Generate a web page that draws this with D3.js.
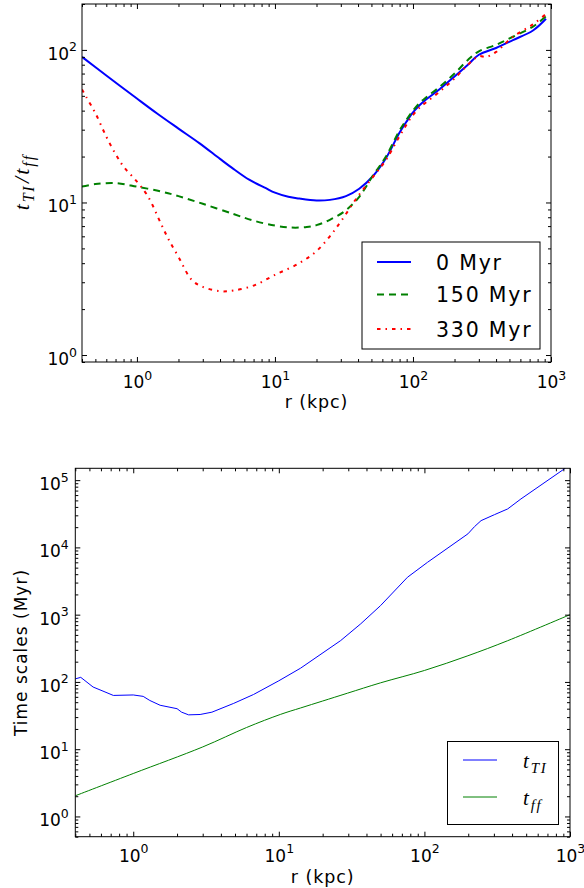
<!DOCTYPE html>
<html>
<head>
<meta charset="utf-8">
<script src="https://cdn.jsdelivr.net/npm/d3@7"></script>
<style>
  html, body { margin: 0; padding: 0; background: #fff; }
  svg { display: block; }
  text { font-family: "DejaVu Sans", sans-serif; fill: #000; }
</style>
</head>
<body>
<svg id="chart" width="584" height="888"></svg>
<script>
// ---------- DATA ----------
// Top panel: t_TI / t_ff ratio vs r (kpc)
const rBlue0   = [0.4, 0.6, 1, 1.4, 2, 2.83, 4, 5, 6.5, 8.6, 10, 12.5, 15, 20, 25, 32.7, 40.8, 51, 63.7, 79.6, 90, 99, 112, 125, 155, 200, 250, 300, 400, 530, 740, 920];
const ratio0   = [90, 68, 48, 38.3, 30.5, 24.5, 19.3, 16.6, 14.1, 12.4, 11.6, 10.9, 10.6, 10.3, 10.4, 11, 12.3, 14.8, 19.5, 28.5, 34, 38.5, 43.5, 47.5, 55, 67, 80, 93, 103, 116, 134, 160];

const rGreen150 = [0.4, 0.5, 0.7, 1.0, 1.5, 2, 3, 5, 7, 10, 13, 17, 20, 25, 32.7, 40.8, 51, 63.7, 79.6, 90, 99, 112, 125, 155, 200, 250, 300, 400, 530, 740, 920];
const ratio150  = [12.7, 13.2, 13.4, 12.7, 11.8, 11, 9.8, 8.4, 7.6, 7.05, 6.85, 6.9, 7.1, 7.7, 8.9, 10.9, 14.9, 20, 29.5, 35, 39.5, 45, 49, 57, 70, 86, 98, 108, 122, 142, 166];

const rRed330  = [0.4, 0.43, 0.5, 0.6, 0.7, 0.8, 1.0, 1.2, 1.5, 1.7, 2, 2.5, 3, 4, 5, 7, 10, 15, 20, 25, 30, 40, 51, 63.7, 79.6, 90, 99, 112, 125, 155, 200, 250, 300, 340, 400, 530, 740, 920];
const ratio330 = [55, 49, 38.5, 27, 20.8, 17.2, 13.7, 11, 7.2, 5.7, 4.4, 3.1, 2.8, 2.62, 2.65, 2.85, 3.35, 4.0, 4.8, 6.0, 7.5, 11, 14.6, 19, 27, 32.5, 37, 42, 45.5, 53, 65, 80, 91, 90, 97, 122, 147, 172];

const topSeriesNames = ["0 Myr", "150 Myr", "330 Myr"];

// Bottom panel: time scales (Myr) vs r (kpc)
const rTI  = [0.4, 0.436, 0.53, 0.62, 0.73, 1.0, 1.17, 1.3, 1.53, 2.0, 2.15, 2.4, 2.88, 3.47, 4.9, 6.7, 10, 14.1, 26.6, 36.5, 50, 76.5, 105, 199, 221, 245, 303, 373, 460, 910, 1000];
const tTI  = [111, 117, 84, 73, 63, 64, 61, 53, 45, 40, 35.5, 32.4, 32.8, 35.5, 48, 65, 104, 160, 412, 730, 1365, 3600, 6000, 15900, 20400, 25000, 30700, 37300, 52500, 146000, 175000];

const rFF  = [0.4, 1, 3, 6, 10.3, 14.1, 20, 29.6, 50, 100, 199, 373, 1000];
const tFF  = [2.03, 4.35, 10.8, 21, 33, 41, 52, 68, 97, 148, 245, 410, 1000];

const xLabel = "r (kpc)";
const bottomYLabel = "Time scales (Myr)";

// ---------- DRAWING ----------
const svg = d3.select("#chart");

function majors(dom) {
  const out = [];
  for (let e = Math.ceil(Math.log10(dom[0]) - 1e-9); e <= Math.floor(Math.log10(dom[1]) + 1e-9); e++) out.push(Math.pow(10, e));
  return out;
}
function minors(dom) {
  const out = [];
  for (let e = Math.floor(Math.log10(dom[0])) ; e <= Math.ceil(Math.log10(dom[1])); e++) {
    for (let k = 2; k <= 9; k++) {
      const v = k * Math.pow(10, e);
      if (v >= dom[0] * 0.9999 && v <= dom[1] * 1.0001) out.push(v);
    }
  }
  return out;
}

function panel(cfg) {
  const x = d3.scaleLog().domain(cfg.xDomain).range([cfg.x0, cfg.x1]);
  const y = d3.scaleLog().domain(cfg.yDomain).range([cfg.y1, cfg.y0]);
  const g = svg.append("g");

  const clipId = "clip" + cfg.id;
  svg.append("clipPath").attr("id", clipId).append("rect")
    .attr("x", cfg.x0).attr("y", cfg.y0).attr("width", cfg.x1 - cfg.x0).attr("height", cfg.y1 - cfg.y0);

  // series
  const lines = g.append("g").attr("clip-path", `url(#${clipId})`);
  cfg.series.forEach(s => {
    const pts = s.r.map((r, i) => [r, s.v[i]]);
    const line = d3.line().x(d => x(d[0])).y(d => y(d[1])).curve(s.curve || cfg.curve);
    lines.append("path").attr("d", line(pts))
      .attr("fill", "none").attr("stroke", s.color).attr("stroke-width", s.width)
      .attr("stroke-dasharray", s.dash || null).attr("stroke-linejoin", "round");
  });

  // axes (ticks pointing inward on all four sides)
  const xMaj = majors(cfg.xDomain), xMin = minors(cfg.xDomain);
  const yMaj = majors(cfg.yDomain), yMin = minors(cfg.yDomain);
  const mk = side => side === "bottom" ? d3.axisBottom(x) : side === "top" ? d3.axisTop(x) : side === "left" ? d3.axisLeft(y) : d3.axisRight(y);
  const defs = [
    ["bottom", `translate(0,${cfg.y1})`, xMaj, xMin],
    ["top",    `translate(0,${cfg.y0})`, xMaj, xMin],
    ["left",   `translate(${cfg.x0},0)`, yMaj, yMin],
    ["right",  `translate(${cfg.x1},0)`, yMaj, yMin]
  ];
  defs.forEach(([side, tr, maj, min]) => {
    const gMin = g.append("g").attr("transform", tr)
      .call(mk(side).tickValues(min).tickSize(-3).tickFormat(() => ""));
    gMin.select(".domain").remove();
    gMin.selectAll(".tick text").remove();
    const gMaj = g.append("g").attr("transform", tr)
      .call(mk(side).tickValues(maj).tickSize(-5).tickFormat(d => String(Math.round(Math.log10(d)))));
    gMaj.select(".domain").remove();
    if (side === "bottom" || side === "left") {
      gMaj.selectAll(".tick text").each(function(d) {
        const t = d3.select(this);
        const e = String(Math.round(Math.log10(d)));
        t.text(null).attr("font-size", 17).attr("font-family", "DejaVu Sans").attr("fill", "#000");
        if (side === "bottom") t.attr("text-anchor", "middle").attr("x", 0).attr("y", cfg.xLabBase).attr("dy", null);
        else t.attr("text-anchor", "end").attr("x", -cfg.yLabGap).attr("y", 9.5).attr("dy", null);
        t.append("tspan").text("10");
        t.append("tspan").attr("dy", -8.5).attr("font-size", 12.5).text(e);
      });
    } else {
      gMaj.selectAll(".tick text").remove();
    }
  });
  g.selectAll(".tick line").attr("stroke", "#000").attr("stroke-width", 1);

  // spines
  g.append("rect").attr("x", cfg.x0).attr("y", cfg.y0)
    .attr("width", cfg.x1 - cfg.x0).attr("height", cfg.y1 - cfg.y0)
    .attr("fill", "none").attr("stroke", "#000").attr("stroke-width", 1);

  // x label
  g.append("text").attr("x", (cfg.x0 + cfg.x1) / 2).attr("y", cfg.y1 + 46)
    .attr("text-anchor", "middle").attr("font-size", 17.5).attr("letter-spacing", 0.9).text(xLabel);

  return {x, y, g};
}

const smooth = d3.curveCatmullRom.alpha(0.5);

// ---------- TOP PANEL ----------
const topCfg = {
  id: "top", x0: 82, x1: 551, y0: 4, y1: 362,
  xDomain: [0.4, 1000], yDomain: [0.9, 200],
  xLabBase: 26, yLabGap: 5, curve: smooth,
  series: [
    {r: rBlue0,    v: ratio0,   color: "#0000ff", width: 2},
    {r: rGreen150, v: ratio150, color: "#008000", width: 2, dash: "7,5"},
    {r: rRed330,   v: ratio330, color: "#ff0000", width: 2, dash: "3.5,5,1.5,5"}
  ]
};
const topPanel = panel(topCfg);

// top y label: t_TI / t_ff (math italic)
const yl = svg.append("text")
  .attr("transform", "translate(29,182) rotate(-90)")
  .attr("text-anchor", "middle")
  .style("font-family", "'Liberation Serif', 'DejaVu Serif', serif")
  .style("font-style", "italic").attr("font-size", 22);
yl.append("tspan").text("t");
yl.append("tspan").attr("dy", 5).attr("font-size", 16).attr("dx", 2).attr("letter-spacing", 1.5).text("TI");
yl.append("tspan").attr("dy", -5).attr("dx", 2).text("/");
yl.append("tspan").attr("dx", 2).text("t");
yl.append("tspan").attr("dy", 5).attr("font-size", 16).attr("dx", 2).attr("letter-spacing", 2).text("ff");

// top legend
const lgT = svg.append("g");
lgT.append("rect").attr("x", 362).attr("y", 242).attr("width", 178).attr("height", 107)
  .attr("fill", "#fff").attr("stroke", "#000").attr("stroke-width", 1);
const lgRowsT = [262, 294.5, 329];
topCfg.series.forEach((s, i) => {
  lgT.append("line").attr("x1", 377).attr("x2", 411).attr("y1", lgRowsT[i]).attr("y2", lgRowsT[i])
    .attr("stroke", s.color).attr("stroke-width", s.width).attr("stroke-dasharray", s.dash || null);
  lgT.append("text").attr("x", 436).attr("y", lgRowsT[i] + 7.5).attr("font-size", 20.5)
    .attr("letter-spacing", 1.8).text(topSeriesNames[i]);
});

// ---------- BOTTOM PANEL ----------
const botCfg = {
  id: "bot", x0: 75.3, x1: 570, y0: 468.3, y1: 836.7,
  xDomain: [0.4, 1000], yDomain: [0.5, 1.5e5],
  xLabBase: 25, yLabGap: 6.5, curve: d3.curveLinear,
  series: [
    {r: rTI, v: tTI, color: "#0000ff", width: 1},
    {r: rFF, v: tFF, color: "#008000", width: 1, curve: smooth}
  ]
};
const botPanel = panel(botCfg);

svg.append("text").attr("transform", "translate(27,652.5) rotate(-90)")
  .attr("text-anchor", "middle").attr("font-size", 17).attr("letter-spacing", 1).text(bottomYLabel);

// bottom legend
const lgB = svg.append("g");
lgB.append("rect").attr("x", 447.5).attr("y", 741.5).attr("width", 111).attr("height", 83)
  .attr("fill", "#fff").attr("stroke", "#000").attr("stroke-width", 1);
const lgRowsB = [760, 797];
const lgLabB = [["t", "TI"], ["t", "ff"]];
botCfg.series.forEach((s, i) => {
  lgB.append("line").attr("x1", 463).attr("x2", 497).attr("y1", lgRowsB[i]).attr("y2", lgRowsB[i])
    .attr("stroke", s.color).attr("stroke-width", s.width);
  const t = lgB.append("text").attr("x", 523).attr("y", lgRowsB[i] + 8)
    .style("font-family", "'Liberation Serif', 'DejaVu Serif', serif")
    .style("font-style", "italic").attr("font-size", 21);
  t.append("tspan").text(lgLabB[i][0]);
  t.append("tspan").attr("dy", 5).attr("dx", 2).attr("font-size", 15).attr("letter-spacing", 1.5).text(lgLabB[i][1]);
});
</script>
</body>
</html>
